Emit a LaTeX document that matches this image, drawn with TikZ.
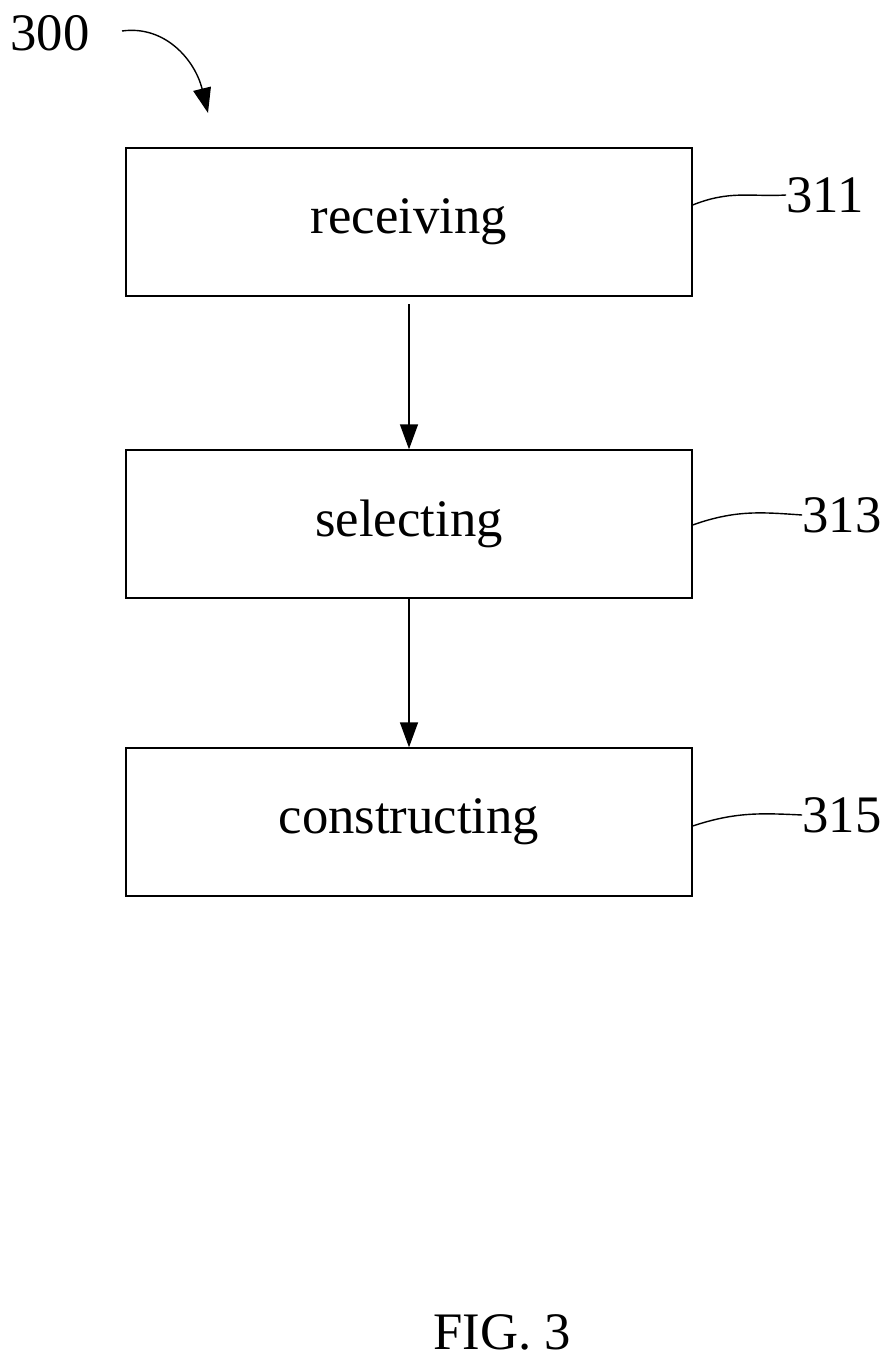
\documentclass[tikz,border=0pt]{standalone}
\usepackage{fontspec}
\setmainfont{Liberation Serif}
\usetikzlibrary{arrows.meta, positioning}
\tikzset{
  stage/.style={draw, thick, minimum width=11.32cm, minimum height=2.96cm, font=\fontsize{30}{34}\selectfont},
  lbl/.style={font=\fontsize{30}{34}\selectfont, inner sep=0pt},
  flow/.style={-{Triangle[length=0.5cm, width=0.36cm]}, thick}
}
\begin{document}
\begin{tikzpicture}[x=0.02cm, y=-0.02cm]
\useasboundingbox (0,0) rectangle (895,1359);
\node[stage] (recv) at (409,222) {receiving};
\node[stage] (sel) at (409,524) {selecting};
\node[stage] (cons) at (409,822) {constructing};
\draw[flow] (409,304) coordinate (a1) -- (sel.north);
\draw[flow] (sel.south) -- (cons.north);
% reference numerals
\node[lbl] (n300) at (50,33) {300};
\node[lbl] (n311) at (825,195) {311};
\node[lbl] (n313) at (842,515) {313};
\node[lbl] (n315) at (842,815) {315};
\node[lbl] (fig) at (502,1332) {FIG. 3};
\coordinate (c300) at (208,113);
\draw[flow] (122,31) .. controls (165,25) and (195,60) .. (c300);
\draw[thick] (recv.east |- 0,205) .. controls (730,190) and (750,197) .. (n311.west);
\draw[thick] (sel.east |- 0,525) .. controls (735,510) and (760,512) .. (n313.west);
\draw[thick] (cons.east |- 0,826) .. controls (735,812) and (760,813) .. (n315.west);
\end{tikzpicture}
\end{document}
